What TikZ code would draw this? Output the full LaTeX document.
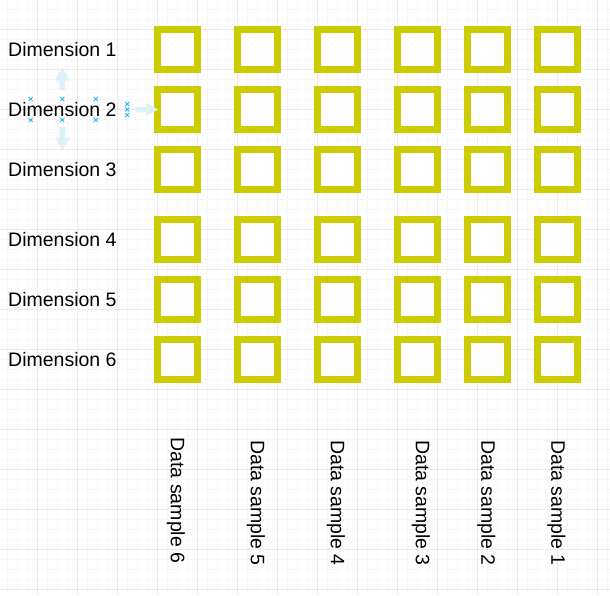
\documentclass[tikz,border=0pt]{standalone}
\usepackage{fontspec}
\setmainfont{Liberation Sans}
\definecolor{cellyellow}{RGB}{204,204,0}
\definecolor{gridmajor}{RGB}{234,234,234}
\definecolor{gridminor}{RGB}{247,247,247}
\definecolor{hoverblue}{RGB}{222,241,251}
\definecolor{selblue}{RGB}{41,182,242}
\tikzset{
  cell/.style={draw=cellyellow, line width=7pt, fill=white, minimum size=40pt, inner sep=0pt},
  dimlabel/.style={anchor=west, inner sep=0pt, font=\fontsize{19.5}{23}\selectfont, text=black},
  samplelabel/.style={rotate=-90, inner sep=0pt, font=\fontsize{19.5}{23}\selectfont, text=black},
  hoverarrow/.style={fill=hoverblue, draw=none},
  selx/.style={draw=selblue, line width=0.8pt}
}
\newcommand{\selmark}[2]{\draw[selx] (#1-2,#2-2) -- (#1+2,#2+2) (#1-2,#2+2) -- (#1+2,#2-2);}
\begin{document}
\begin{tikzpicture}[x=1pt,y=-1pt]
\useasboundingbox (0,0) rectangle (610,595);
\fill[white] (0,0) rectangle (610,595);
% minor grid
\foreach \x in {7,17,...,607} \draw[gridminor, line width=1pt] (\x,0) -- (\x,595);
\foreach \y in {9,19,...,589} \draw[gridminor, line width=1pt] (0,\y) -- (610,\y);
% major grid
\foreach \x in {37,77,...,597} \draw[gridmajor, line width=1pt] (\x,0) -- (\x,595);
\foreach \y in {29,69,...,589} \draw[gridmajor, line width=1pt] (0,\y) -- (610,\y);

% cells
\foreach \cx [count=\i] in {177.5,257.5,337.5,417.5,487.5,557.5}
  \foreach \cy [count=\j] in {49.5,109.5,169.5,239.5,299.5,359.5}
    \node[cell] (c\i-\j) at (\cx,\cy) {};

% dimension labels
\foreach \cy [count=\j] in {49.5,109.5,169.5,239.5,299.5,359.5}
  \node[dimlabel] (dim\j) at (8,\cy) {Dimension \j};

% sample labels
\node[samplelabel] (s6) at (176,500.5) {Data sample 6};
\node[samplelabel] (s5) at (256,503) {Data sample 5};
\node[samplelabel] (s4) at (336,503) {Data sample 4};
\node[samplelabel] (s3) at (421,503) {Data sample 3};
\node[samplelabel] (s2) at (486.5,503) {Data sample 2};
\node[samplelabel] (s1) at (556.5,503) {Data sample 1};

% hover arrows around Dimension 2
\fill[hoverarrow] (62.3,67) -- (69.8,80.5) -- (65.2,80.5) -- (65.2,90) -- (59.4,90) -- (59.4,80.5) -- (54.8,80.5) -- cycle;
\fill[hoverarrow] (62.3,150) -- (69.8,137.5) -- (65.2,137.5) -- (65.2,127) -- (59.4,127) -- (59.4,137.5) -- (54.8,137.5) -- cycle;
\fill[hoverarrow] (158,109.5) -- (146,103) -- (146,107) -- (135,107) -- (135,112) -- (146,112) -- (146,116) -- cycle;

% selection marks
\selmark{30.7}{99}
\selmark{62.3}{99}
\selmark{95.7}{99}
\selmark{30.7}{120}
\selmark{62.3}{120}
\selmark{95.7}{120}
\selmark{127.3}{104}
\selmark{127.3}{109.5}
\selmark{127.3}{115}
\end{tikzpicture}
\end{document}
